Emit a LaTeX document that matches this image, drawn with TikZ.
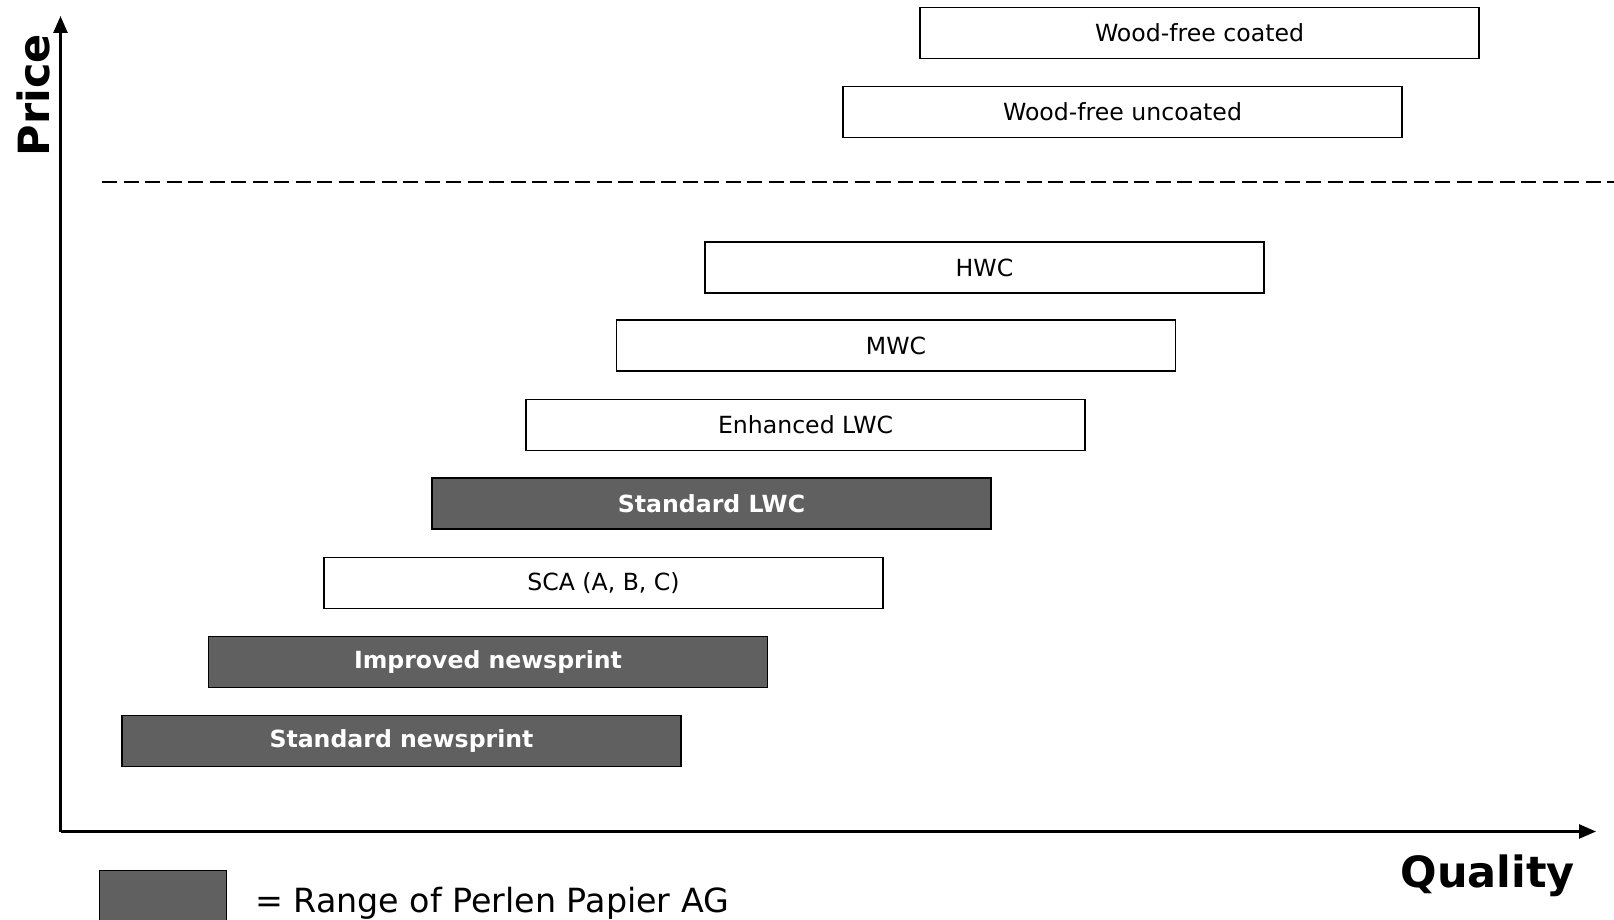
\documentclass[tikz,border=0pt]{standalone}
\usepackage{fontspec}
\setmainfont{DejaVu Sans}
\usepackage{tikz}
\usetikzlibrary{arrows.meta}
\definecolor{perlengray}{RGB}{96,96,96}

\begin{document}
\begin{tikzpicture}[x=1pt,y=-1pt,
  paper/.style={draw=black,line width=1.2pt,minimum width=559pt,minimum height=51pt,inner sep=0pt,font=\fontsize{23.6}{28}\selectfont},
  perlen/.style={paper,fill=perlengray,text=white,font=\fontsize{23.6}{28}\selectfont\bfseries},
  axis/.style={line width=2.6pt,-{Triangle[length=17pt,width=14pt]}},
  axislabel/.style={inner sep=0pt,font=\fontsize{43}{50}\selectfont\bfseries}]
\useasboundingbox (0,0) rectangle (1614,920);
\coordinate (origin) at (60.5,831.5);
\coordinate (ytip) at (60.5,16);
\coordinate (xtip) at (1596,831.5);
\coordinate (dashl) at (102,182);
\coordinate (dashr) at (1614,182);
\draw[axis] (origin) -- (ytip);
\draw[axis] (origin) -- (xtip);
\draw[dash pattern=on 15pt off 6.5pt,line width=1.8pt] (dashl) -- (dashr);
\node[paper] (wfc) at (1199.5,33) {Wood-free coated};
\node[paper] (wfu) at (1122.5,112) {Wood-free uncoated};
\node[paper] (hwc) at (984.5,267.5) {HWC};
\node[paper] (mwc) at (896,345.5) {MWC};
\node[paper] (elwc) at (805.5,425) {Enhanced LWC};
\node[perlen] (slwc) at (711.5,503.5) {Standard LWC};
\node[paper] (sca) at (603.5,583) {SCA (A, B, C)};
\node[perlen] (inp) at (488,662) {Improved newsprint};
\node[perlen] (snp) at (401.5,741) {Standard newsprint};
\node[axislabel,rotate=90] (price) at (33,95) {Price};
\node[axislabel,anchor=base east] (quality) at (1575,887) {Quality};
\node[perlen,minimum width=127pt,minimum height=60pt,anchor=north west] (legbox) at (99,870) {};
\node[inner sep=0pt,anchor=base west,font=\fontsize{33.3}{40}\selectfont] (legtext) at (255,912) {= Range of Perlen Papier AG};
\end{tikzpicture}
\end{document}
